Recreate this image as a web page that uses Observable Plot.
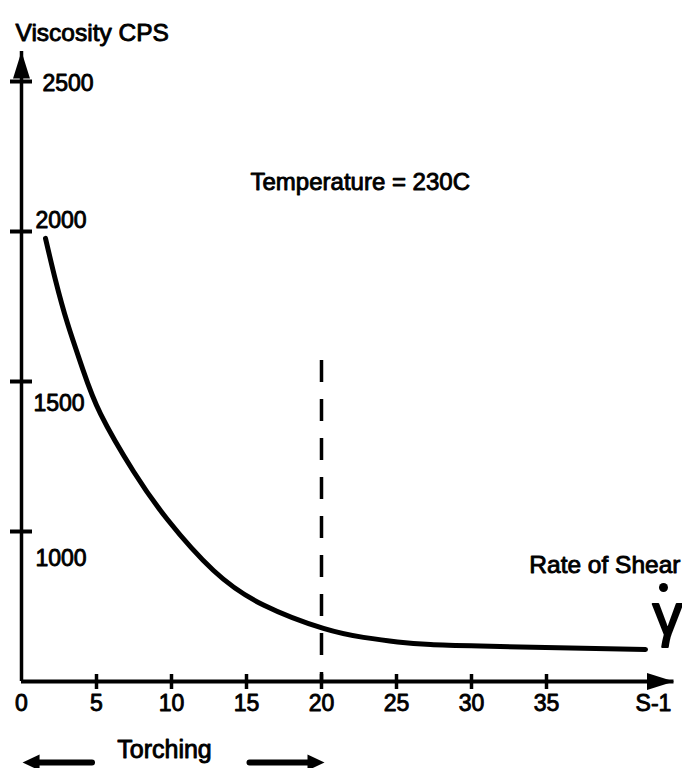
<!DOCTYPE html>
<html>
<head>
<meta charset="utf-8">
<script src="https://cdn.jsdelivr.net/npm/d3@7"></script>
<script src="https://cdn.jsdelivr.net/npm/@observablehq/plot@0.6"></script>
<style>
  html, body { margin: 0; padding: 0; background: #fff; }
</style>
</head>
<body>
<div id="chart"></div>
<script>
// ---- data ----
const shearRate = [1.6, 2.27, 3.07, 4.07, 5.27, 7.47, 9.73, 12.8, 16.13, 20.13, 22.8, 25.07, 27.27, 30.6, 41.6];
const viscosity = [1977, 1837, 1693, 1543, 1392, 1200, 1040, 870, 755, 677, 647, 632, 623, 618, 607];
const xDomain = [0, 43.5];
const yDomain = [500, 2600];
const xTicks = [5, 10, 15, 20, 25, 30, 35];
const xTickLabels = ["0", "5", "10", "15", "20", "25", "30", "35"];
const xLabelValues = [0, 5, 10, 15, 20, 25, 30, 35];
const yTicks = [1000, 1500, 2000, 2500];
const yTickLabels = ["1000", "1500", "2000", "2500"];
const torchingLimit = [{x: 20, top: 1570}];
const torchingRange = [0, 20];
const yTitle = "Viscosity CPS";
const annotation = "Temperature = 230C";
const xTitle = "Rate of Shear";
const unitLabel = "S-1";
const torchingLabel = "Torching";

const curve = shearRate.map((x, i) => ({x, y: viscosity[i]}));

// ---- styling ----
const font = "Liberation Sans, Arial, Helvetica, sans-serif";
const txt = {fontFamily: font, fill: "black", stroke: "black", strokeWidth: 0.9};
const bigHead = {draw(ctx) { ctx.moveTo(0, 0); ctx.lineTo(-8.5, 27); ctx.lineTo(8.5, 27); ctx.closePath(); }};
const smallHead = {draw(ctx) { ctx.moveTo(0, 0); ctx.lineTo(-8, 17); ctx.lineTo(8, 17); ctx.closePath(); }};
const yLabelOffset = {2500: [21, 2], 2000: [14, -11], 1500: [12, 22], 1000: [14, 27]};

const chart = Plot.plot({
  width: 682,
  height: 768,
  marginLeft: 21,
  marginRight: 8.5,
  marginTop: 51,
  marginBottom: 87,
  style: {background: "white", fontFamily: font, overflow: "visible"},
  x: {domain: xDomain},
  y: {domain: yDomain},
  marks: [
    // axes lines
    Plot.ruleX([xDomain[0]], {strokeWidth: 3.5, stroke: "black"}),
    Plot.ruleY([yDomain[0]], {strokeWidth: 4, stroke: "black"}),
    Plot.dot([{x: xDomain[0], y: yDomain[1]}], {x: "x", y: "y", symbol: bigHead, fill: "black", stroke: null, r: 5}),
    Plot.dot([{x: xDomain[1], y: yDomain[0]}], {x: "x", y: "y", symbol: bigHead, fill: "black", stroke: null, r: 5, rotate: 90}),
    // ticks
    Plot.axisY({ticks: yTicks, tickSize: 22, dx: 11, tickFormat: () => "", label: null, strokeWidth: 4}),
    Plot.axisX({ticks: xTicks, tickSize: 15, dy: -7, tickFormat: () => "", label: null, strokeWidth: 3.5}),
    // tick labels
    Plot.text(xLabelValues, {x: d => d, text: (d, i) => xTickLabels[i], frameAnchor: "bottom", dy: 29, fontSize: 23, ...txt}),
    Plot.text([unitLabel], {text: d => d, frameAnchor: "bottom-right", dx: -20.5, dy: 29, textAnchor: "middle", fontSize: 23, ...txt}),
    ...yTicks.map((v, i) => Plot.text([v], {
      y: d => d, text: () => yTickLabels[i], frameAnchor: "left", textAnchor: "start",
      dx: yLabelOffset[v][0], dy: yLabelOffset[v][1], fontSize: 23, ...txt
    })),
    // torching limit
    Plot.ruleX(torchingLimit, {x: "x", y1: "top", y2: yDomain[0], stroke: "black", strokeWidth: 3.5, strokeDasharray: "22,17"}),
    // viscosity curve
    Plot.line(curve, {x: "x", y: "y", curve: "natural", stroke: "black", strokeWidth: 5, strokeLinecap: "round"}),
    // titles and annotations
    Plot.text([yTitle], {text: d => d, frameAnchor: "top-left", textAnchor: "start", dx: -6, dy: -28, fontSize: 24.5, ...txt}),
    Plot.text([annotation], {text: d => d, frameAnchor: "top-left", textAnchor: "start", dx: 229, dy: 121, fontSize: 24, ...txt}),
    Plot.text([xTitle], {text: d => d, frameAnchor: "top-right", textAnchor: "end", dx: 6.5, dy: 504, fontSize: 24.5, ...txt}),
    Plot.dot([0], {frameAnchor: "top-right", dx: -10.5, dy: 536, r: 4.5, fill: "black", stroke: null}),
    Plot.text(["γ"], {text: d => d, frameAnchor: "top-right", textAnchor: "middle", lineAnchor: "bottom", dx: -6.5, dy: 583, fontSize: 60, ...txt, strokeWidth: 2}),
    // torching arrows
    Plot.text([torchingLabel], {text: d => d, frameAnchor: "bottom-left", textAnchor: "middle", dx: 143, dy: 76, fontSize: 25, ...txt}),
    Plot.link([torchingRange], {x1: d => d[0] + 4.7, x2: d => d[0] + 1.0, y1: yDomain[0], y2: yDomain[0], dy: 81, stroke: "black", strokeWidth: 6, strokeLinecap: "round"}),
    Plot.dot([torchingRange], {x: d => d[0] + 0.07, y: yDomain[0], dy: 81, symbol: smallHead, rotate: -90, fill: "black", stroke: null, r: 5}),
    Plot.link([torchingRange], {x1: d => d[1] - 4.8, x2: d => d[1] - 0.9, y1: yDomain[0], y2: yDomain[0], dy: 81, stroke: "black", strokeWidth: 6, strokeLinecap: "round"}),
    Plot.dot([torchingRange], {x: d => d[1] + 0.2, y: yDomain[0], dy: 81, symbol: smallHead, rotate: 90, fill: "black", stroke: null, r: 5})
  ]
});
document.getElementById("chart").appendChild(chart);
</script>
</body>
</html>
